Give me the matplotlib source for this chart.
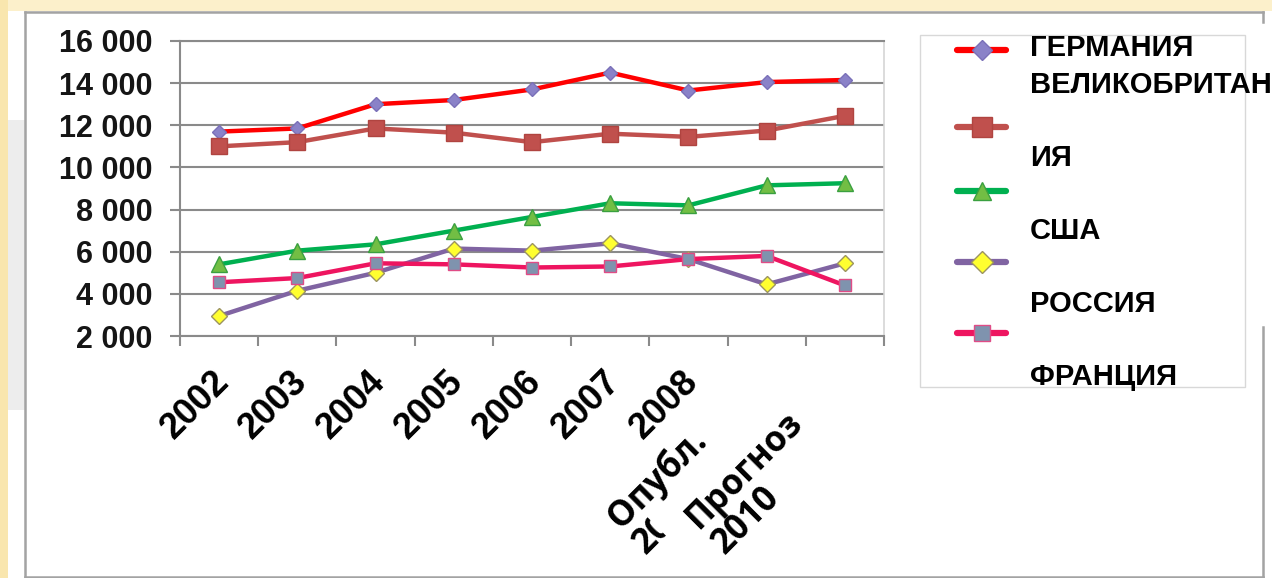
import matplotlib
matplotlib.use("Agg")
import matplotlib.pyplot as plt
from matplotlib import transforms as mtrans
from matplotlib.patches import Rectangle, Polygon
from matplotlib.lines import Line2D
import numpy as np

# ---------------- data ----------------
categories = ["2002", "2003", "2004", "2005", "2006", "2007", "2008",
              "Опубл.\n2009", "Прогноз\n2010"]
germany = [11700, 11850, 13000, 13200, 13700, 14500, 13650, 14050, 14150]
uk      = [11000, 11200, 11850, 11650, 11200, 11600, 11450, 11750, 12450]
usa     = [5400, 6050, 6350, 7000, 7650, 8300, 8200, 9150, 9250]
russia  = [2950, 4150, 5000, 6150, 6050, 6400, 5650, 4450, 5450]
france  = [4550, 4750, 5450, 5400, 5250, 5300, 5650, 5800, 4400]
series_names = ["ГЕРМАНИЯ", "ВЕЛИКОБРИТАНИЯ", "США", "РОССИЯ", "ФРАНЦИЯ"]
y_ticks = [2000, 4000, 6000, 8000, 10000, 12000, 14000, 16000]
y_tick_labels = ["2 000", "4 000", "6 000", "8 000", "10 000", "12 000", "14 000", "16 000"]

# ---------------- styles ----------------
styles = [
    dict(color="#FF0000", marker="D", ms=7, mfc="#8A82C8", mec="#7A70B8", mew=1.0),
    dict(color="#C0504D", marker="s", ms=12, mfc="#C0504D", mec="#B04440", mew=1.0),
    dict(color="#00B050", marker="^", ms=11, mfc="#72BE44", mec="#3AA040", mew=1.0),
    dict(color="#8064A2", marker="D", ms=8, mfc="#FFFF30", mec="#9C9460", mew=1.0),
    dict(color="#EE1560", marker="s", ms=9, mfc="#7F93AE", mec="#E04C86", mew=1.0),
]
series = [germany, uk, usa, russia, france]

W, H = 1272, 578
fig = plt.figure(figsize=(W / 100, H / 100), dpi=100)
fig.patch.set_facecolor("white")
pix = mtrans.Affine2D().scale(1 / W, -1 / H).translate(0, 1) + fig.transFigure

# background decoration
fig.add_artist(Rectangle((0, 0), W, 11, transform=pix, fc="#FCF0CB", ec="none", zorder=0))
fig.add_artist(Rectangle((0, 0), 8, H, transform=pix, fc="#F9E6AE", ec="none", zorder=0))
fig.add_artist(Rectangle((8, 120), 17, 290, transform=pix, fc="#EDEDED", ec="none", zorder=0))
frame_c = "#A3A3A3"
for xs, ys in [([25, 1263], [12, 12]), ([25, 25], [12, 577]), ([25, 1263], [577, 577]),
               ([1263, 1263], [327, 577]), ([1263, 1263], [12, 22])]:
    fig.add_artist(Line2D(xs, ys, transform=pix, color=frame_c, lw=1.8, zorder=0.5))

# ---------------- axes ----------------
ax = fig.add_axes([180 / W, 1 - 336 / H, 704 / W, 295 / H])
ax.set_facecolor("none")
x = np.arange(len(categories))
for vals, st in zip(series, styles):
    ax.plot(x, vals, lw=3.2, solid_joinstyle="round", zorder=3, **st)

ax.set_xlim(-0.5, len(categories) - 0.5)
ax.set_ylim(2000, 16000)
ax.set_yticks(y_ticks)
ax.set_yticklabels(y_tick_labels, fontsize=22, fontweight="bold",
                   family="Liberation Sans", color="#151515")
ax.yaxis.grid(True, color="#8A8A8A", lw=1.5)
ax.set_axisbelow(True)
grid_c = "#8A8A8A"
ax.tick_params(axis="y", direction="out", length=7, width=1.5, color=grid_c, pad=13)
ax.set_xticks(x)
ax.set_xticklabels([])
ax.tick_params(axis="x", which="major", length=0)
ax.set_xticks(np.arange(-0.5, len(categories)), minor=True)
ax.tick_params(axis="x", which="minor", direction="out", length=7, width=1.5, color=grid_c)
for s in ["left", "bottom", "top"]:
    ax.spines[s].set_color(grid_c)
    ax.spines[s].set_linewidth(1.5)
ax.spines["right"].set_color("#D5D5D5")
ax.spines["right"].set_linewidth(1.2)

# ---------------- x labels ----------------
blend = mtrans.blended_transform_factory(ax.transData, ax.transAxes)
for i, lab in enumerate(categories):
    if "\n" not in lab:
        t = mtrans.offset_copy(blend, fig=fig, x=-8, y=-28, units="dots")
        ax.text(i, 0, lab, transform=t, rotation=45, rotation_mode="anchor",
                ha="right", va="top", fontsize=26, fontweight="bold",
                family="Liberation Sans", color="black", clip_on=False, zorder=5)

u = np.array([np.sqrt(0.5), np.sqrt(0.5)])      # baseline direction (display)
v = np.array([np.sqrt(0.5), -np.sqrt(0.5)])     # next-line direction (display)
line_step = 36
base_off = np.array([-146, -194])
for i, lab in enumerate(categories):
    if "\n" in lab:
        lines = lab.split("\n")
        for k, ln in enumerate(lines):
            off = base_off + k * line_step * v
            t = mtrans.offset_copy(blend, fig=fig, x=off[0], y=off[1], units="dots")
            ax.text(i, 0, ln, transform=t, rotation=45, rotation_mode="anchor",
                    ha="left", va="baseline", fontsize=25, fontweight="bold",
                    family="Open Sans", color="black", clip_on=False,
                    zorder=4 if k == 1 and i == len(categories) - 2 else 6)

# mask truncating the second line of the "Опубл." label (clipped in the original)
i_cut = len(categories) - 2
p0 = blend.transform((i_cut, 0)) + base_off + line_step * v
cut = 28
perp = np.array([-np.sqrt(0.5), np.sqrt(0.5)])
corners = [p0 + a * u + b * perp for a, b in [(cut, -14), (cut + 120, -14), (cut + 120, 38), (cut, 38)]]
ax.add_patch(Polygon(corners, closed=True, transform=mtrans.IdentityTransform(),
                     fc="white", ec="none", zorder=5, clip_on=False))

# ---------------- legend ----------------
fig.add_artist(Rectangle((920, 35), 325, 352, transform=pix, fc="white",
                         ec="#D8D8D8", lw=1.0, zorder=2))
handle_y = [50, 127, 191, 262, 333]
leg_ms = [10, 14, 13, 11, 12]
for hy, st, ms in zip(handle_y, styles, leg_ms):
    fig.add_artist(Line2D([957, 1006], [hy, hy], transform=pix, color=st["color"],
                          lw=4.5, solid_capstyle="round", zorder=3))
    fig.add_artist(Line2D([982], [hy], transform=pix, marker=st["marker"], ms=ms,
                          mfc=st["mfc"], mec=st["mec"], mew=1.0, ls="none", zorder=3.5))

uk_name = series_names[1]
leg_lines = [series_names[0], uk_name[:12], "", uk_name[12:], "", series_names[2], "",
             series_names[3], "", series_names[4]]
for k, ln in enumerate(leg_lines):
    if ln:
        fig.text(1030 / W, 1 - (48 + k * 36.6) / H, ln, fontsize=21, fontweight="bold",
                 family="Liberation Sans", va="center", ha="left", color="black", zorder=4)

fig.savefig("out.png", dpi=100)
